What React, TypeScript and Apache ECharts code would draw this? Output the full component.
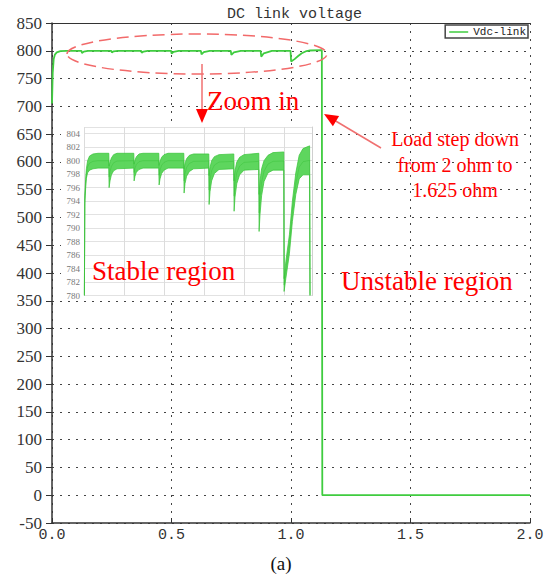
import React, { useEffect, useRef } from "react";
import * as echarts from "echarts";

// Main trace: DC link voltage (s, V)
const mainT = [0, 0.003, 0.007, 0.012, 0.02, 0.035, 0.06,
  0.123, 0.1255, 0.133, 0.15,
  0.248, 0.2505, 0.258, 0.275,
  0.373, 0.3755, 0.383, 0.4,
  0.498, 0.5005, 0.509, 0.53,
  0.623, 0.6255, 0.635, 0.66,
  0.748, 0.7505, 0.761, 0.79,
  0.873, 0.8755, 0.886, 0.92,
  0.998, 1.0005, 1.015, 1.03, 1.045, 1.065, 1.08, 1.129, 1.131, 2.0];
const mainV = [705, 760, 785, 793, 797, 799.5, 800,
  800, 796, 798.5, 800,
  800, 797, 799, 800,
  800, 796.4, 798.6, 800,
  800, 795.2, 798.2, 800,
  800, 793.5, 797.5, 800,
  800, 792.5, 797, 800,
  800, 789.5, 795.5, 800,
  800, 780.6, 785, 790.5, 795.5, 799.5, 800.5, 801, 0, 0];

// Inset (zoomed stable region): ripple envelope
const insetT = [0.002, 0.004, 0.008, 0.012, 0.018, 0.028, 0.045, 0.07, 0.124,
  0.1255, 0.13, 0.137, 0.148, 0.165, 0.249,
  0.2505, 0.255, 0.262, 0.275, 0.295, 0.374,
  0.3755, 0.38, 0.388, 0.4, 0.42, 0.499,
  0.5005, 0.505, 0.513, 0.527, 0.548, 0.624,
  0.6255, 0.63, 0.638, 0.652, 0.675, 0.749,
  0.7505, 0.755, 0.764, 0.778, 0.8, 0.874,
  0.8755, 0.88, 0.888, 0.9, 0.92, 0.945, 0.999,
  1.0005, 1.009, 1.027, 1.042, 1.059, 1.076, 1.095, 1.128, 1.13];
const insetLow = [780, 793.6, 795.8, 797.4, 798.2, 798.6, 798.8, 798.9, 798.9,
  796.0, 797.0, 797.9, 798.5, 798.8, 798.9,
  797.0, 797.7, 798.3, 798.7, 798.9, 798.9,
  796.4, 797.3, 798.1, 798.6, 798.9, 798.9,
  795.2, 796.6, 797.7, 798.4, 798.8, 798.9,
  793.5, 795.4, 797.0, 798.1, 798.7, 798.8,
  792.5, 794.6, 796.6, 797.9, 798.6, 798.7,
  789.5, 792.0, 794.8, 796.9, 798.2, 798.6, 798.6,
  780.6, 782.5, 786.2, 791.0, 795.0, 797.3, 797.9, 797.9, 780];
const insetHigh = [780.3, 794.8, 797.2, 798.8, 800.0, 800.7, 801.0, 801.1, 801.1,
  799.2, 799.8, 800.4, 800.9, 801.1, 801.1,
  799.5, 800.1, 800.6, 801.0, 801.1, 801.1,
  799.3, 799.9, 800.5, 800.9, 801.1, 801.1,
  798.8, 799.6, 800.3, 800.8, 801.0, 801.0,
  797.8, 799.0, 800.0, 800.6, 800.9, 801.0,
  797.0, 798.5, 799.8, 800.5, 800.9, 801.1,
  795.0, 797.0, 798.8, 800.0, 800.8, 801.2, 801.3,
  782.5, 785.0, 789.0, 794.0, 798.2, 800.8, 801.8, 802.2, 780.3];

const titleText = "DC link voltage";
const seriesName = "Vdc-link";
const loadText = ["Load step down", "from 2 ohm to", "1.625 ohm"];

const GREEN = "#3fcc3f";
const RED = "#ff0000";
const SERIF = "Liberation Serif";
const MONO = "Liberation Mono";

export default function App() {
  const ref = useRef<HTMLDivElement>(null);
  useEffect(() => {
    if (!ref.current) return;
    const chart = echarts.init(ref.current, undefined, { renderer: "svg" });
    const bandData = insetT.map((t, i) => [t, insetLow[i], insetHigh[i]]);
    const option: any = {
      animation: false,
      backgroundColor: "#fff",
      title: {
        text: titleText,
        left: 222,
        top: 2,
        textStyle: { fontFamily: MONO, fontSize: 15, fontWeight: "normal", color: "#333" },
      },
      legend: {
        data: [{ name: seriesName, icon: "rect" }],
        right: 26,
        top: 25,
        padding: [1, 2, 0, 4],
        itemWidth: 19,
        itemHeight: 1.5,
        borderColor: "#444",
        borderWidth: 1.5,
        borderRadius: 0,
        backgroundColor: "#fff",
        textStyle: { fontFamily: MONO, fontSize: 11, color: "#222", lineHeight: 12 },
      },
      grid: [
        { left: 52, top: 23, width: 478, height: 500 },
        { left: 84, top: 127, width: 228, height: 168.5 },
      ],
      xAxis: [
        {
          type: "value", gridIndex: 0, min: 0, max: 2, interval: 0.5,
          axisLine: { show: true, onZero: false, lineStyle: { color: "#333", width: 1.5 } },
          axisTick: { show: true, inside: true, length: 5, lineStyle: { color: "#333" } },
          axisLabel: { fontFamily: MONO, fontSize: 15, color: "#333", margin: 5, formatter: (v: number) => v.toFixed(1) },
          splitLine: { show: true, lineStyle: { type: [2, 6], color: "#444", width: 1 } },
        },
        {
          type: "value", gridIndex: 0, position: "top", min: 0, max: 2,
          axisLine: { show: true, onZero: false, lineStyle: { color: "#333", width: 1.2 } },
          axisTick: { show: false }, axisLabel: { show: false }, splitLine: { show: false },
        },
        {
          type: "value", gridIndex: 1, min: 0, max: 1.14, interval: 0.2, z: 2,
          axisLine: { show: false, onZero: false }, axisTick: { show: false }, axisLabel: { show: false },
          splitLine: { show: true, lineStyle: { color: "#dcdcdc", width: 1 } },
        },
      ],
      yAxis: [
        {
          type: "value", gridIndex: 0, min: -50, max: 850, interval: 50,
          axisLine: { show: true, onZero: false, lineStyle: { color: "#333", width: 1.5 } },
          axisTick: { show: true, length: 6, lineStyle: { color: "#333" } },
          axisLabel: { fontFamily: SERIF, fontSize: 17, color: "#333", margin: 10 },
          splitLine: { show: true, lineStyle: { type: [2, 6], color: "#444", width: 1 } },
        },
        {
          type: "value", gridIndex: 1, min: 780, max: 805, interval: 2, z: 2,
          axisLine: { show: false, onZero: false }, axisTick: { show: false },
          axisLabel: { fontFamily: SERIF, fontSize: 9, color: "#777", margin: 4 },
          splitLine: { show: true, lineStyle: { color: "#e2e2e2", width: 1 } },
        },
        {
          type: "value", gridIndex: 1, position: "right", min: 780, max: 805, z: 2,
          axisLine: { show: true, onZero: false, lineStyle: { color: "#cfcfcf", width: 1 } },
          axisTick: { show: false }, axisLabel: { show: false }, splitLine: { show: false },
        },
      ],
      series: [
        {
          name: seriesName, type: "line", xAxisIndex: 0, yAxisIndex: 0, z: 4,
          symbol: "none", data: mainT.map((t, i) => [t, mainV[i]]),
          lineStyle: { color: GREEN, width: 1.8 }, itemStyle: { color: GREEN },
        },
        {
          name: "band", type: "custom", xAxisIndex: 2, yAxisIndex: 1, z: 3,
          data: bandData,
          encode: { x: 0, y: [1, 2] },
          renderItem: (params: any, api: any) => {
            if (params.dataIndex !== 0) return null;
            const upper = bandData.map((d) => api.coord([d[0], d[2]]));
            const lower = bandData.map((d) => api.coord([d[0], d[1]])).reverse();
            return {
              type: "group",
              children: [
                {
                  type: "polygon",
                  shape: { points: upper.concat(lower) },
                  style: { fill: "#55d455", stroke: "#3cc43c", lineWidth: 0.8, opacity: 0.95 },
                },
                {
                  type: "polyline",
                  shape: { points: bandData.map((d) => api.coord([d[0], (d[1] + d[2]) / 2])) },
                  style: { fill: "none", stroke: "#30bb30", lineWidth: 0.6, opacity: 0.6 },
                },
              ],
            };
          },
        },
      ],
      graphic: [
        { type: "rect", z: 1, shape: { x: 61, y: 124, width: 254, height: 174 }, style: { fill: "#fff" } },
        {
          type: "ellipse", z: 10, shape: { cx: 197, cy: 54, rx: 130, ry: 20 },
          style: { fill: "none", stroke: "#f26a6a", lineWidth: 1.5, lineDash: [12, 6] },
        },
        { type: "line", z: 10, shape: { x1: 202, y1: 64, x2: 202, y2: 111 }, style: { stroke: "#f07070", lineWidth: 1.5 } },
        { type: "polygon", z: 10, shape: { points: [[196, 109], [208, 109], [202, 123]] }, style: { fill: RED } },
        {
          type: "text", z: 10, x: 207, y: 101,
          style: { text: "Zoom in", fill: RED, font: `27px "${SERIF}"`, verticalAlign: "middle" },
        },
        { type: "line", z: 10, shape: { x1: 381, y1: 148, x2: 334, y2: 120 }, style: { stroke: "#f07070", lineWidth: 1.5 } },
        { type: "polygon", z: 10, shape: { points: [[324, 114], [332.9, 126.3], [339.1, 116]] }, style: { fill: RED } },
        ...loadText.map((s, i) => ({
          type: "text", z: 10, x: 455, y: 139 + i * 25.5,
          style: { text: s, fill: RED, font: `20px "${SERIF}"`, align: "center", verticalAlign: "middle" },
        })),
        {
          type: "text", z: 10, x: 92, y: 271,
          style: { text: "Stable region", fill: RED, font: `27px "${SERIF}"`, verticalAlign: "middle" },
        },
        {
          type: "text", z: 10, x: 341, y: 281,
          style: { text: "Unstable region", fill: RED, font: `27px "${SERIF}"`, verticalAlign: "middle" },
        },
        {
          type: "text", z: 10, x: 281, y: 563,
          style: { text: "(a)", fill: "#111", font: `19px "${SERIF}"`, align: "center", verticalAlign: "middle" },
        },
      ],
    };
    chart.setOption(option);
    return () => chart.dispose();
  }, []);
  return (
    <div
      ref={ref}
      style={{ position: "fixed", left: 0, top: 0, width: 554, height: 577, background: "#fff" }}
    />
  );
}
